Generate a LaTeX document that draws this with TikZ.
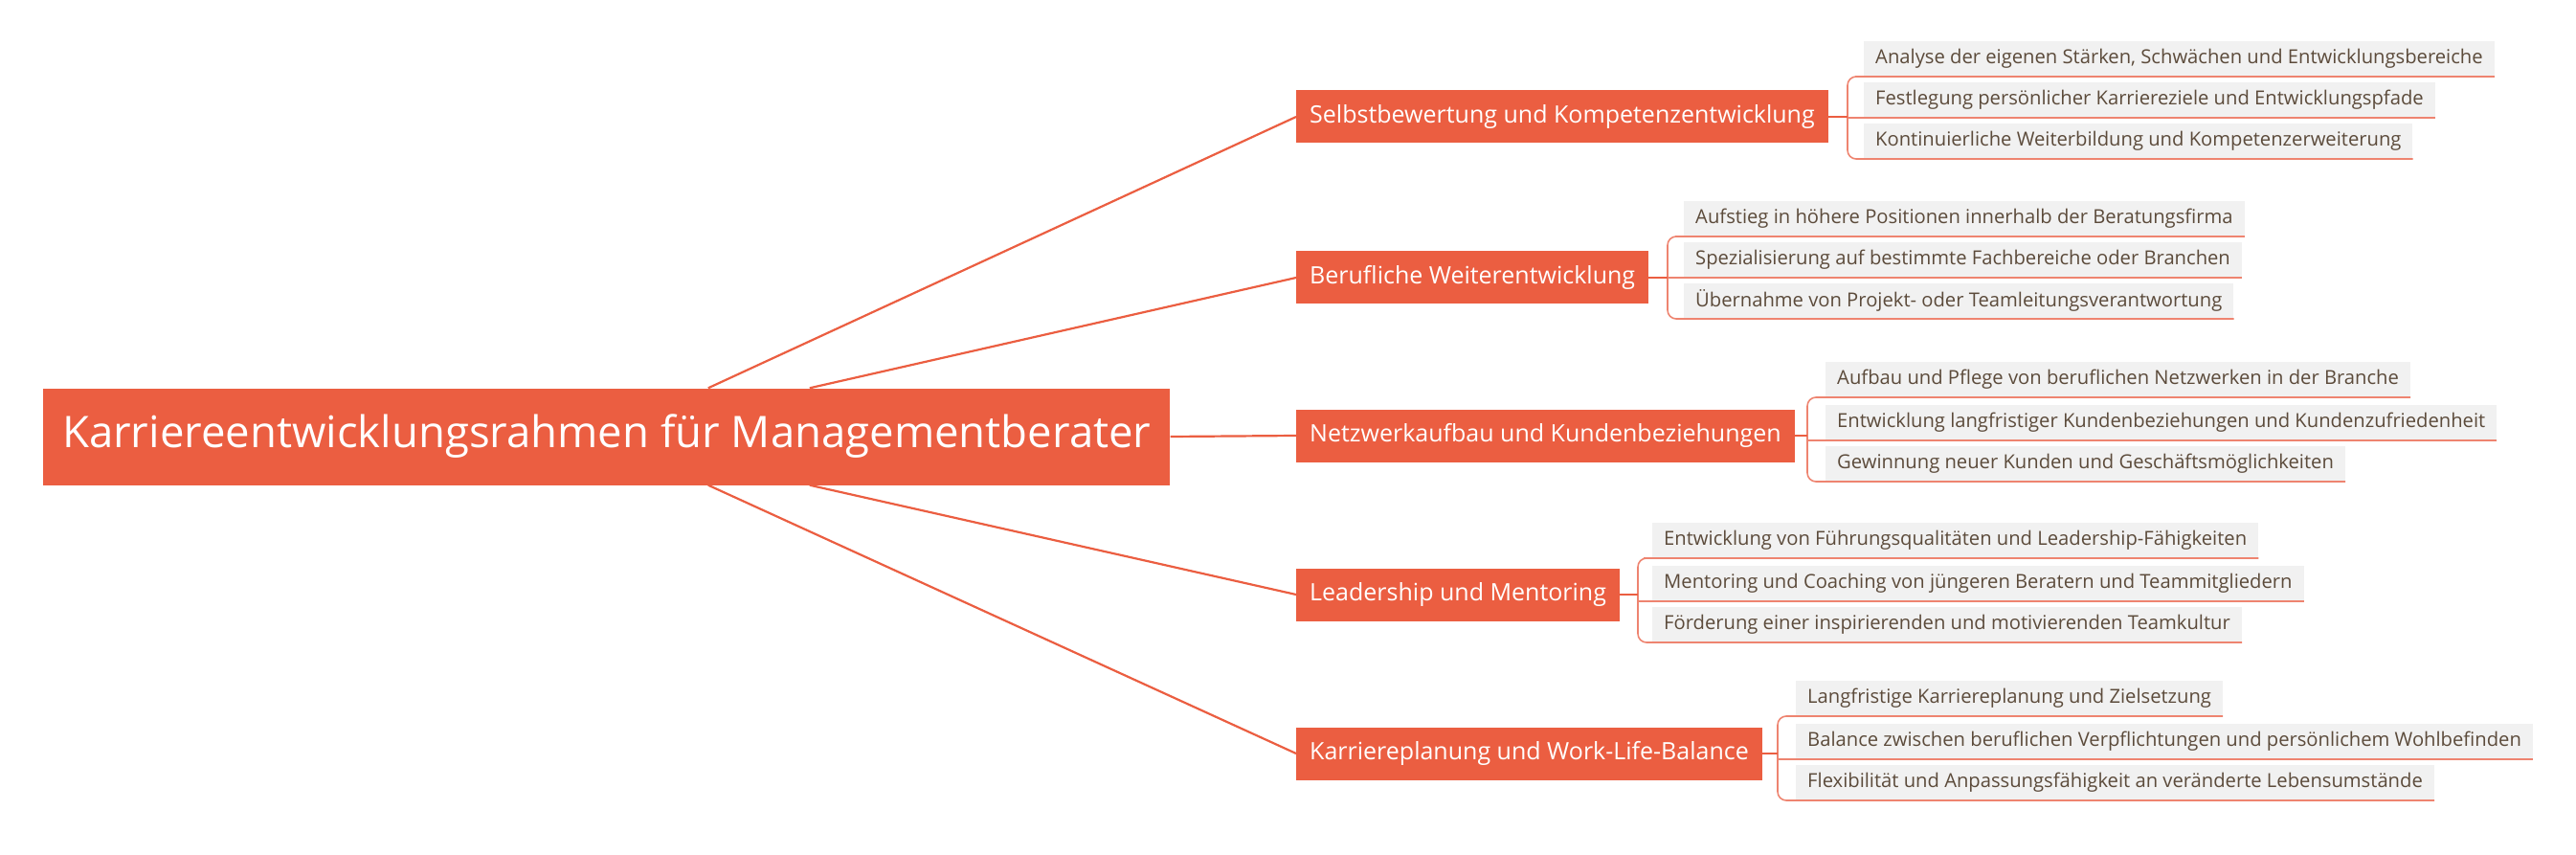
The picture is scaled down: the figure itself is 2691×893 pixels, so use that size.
\documentclass[tikz,border=0pt]{standalone}
\usetikzlibrary{calc}
\usepackage{fontspec}
\setmainfont{Open Sans}
\definecolor{brc}{HTML}{EB5E41}
\definecolor{lfill}{HTML}{F1F1F1}
\definecolor{ltext}{HTML}{5C4B3B}
\definecolor{uline}{HTML}{EE8470}
\begin{document}
\begin{tikzpicture}[x=1pt,y=-1pt,
  root/.style={fill=brc,text=white,inner xsep=20pt,minimum height=101pt,font=\fontsize{45.5}{54}\selectfont,anchor=west},
  br/.style={fill=brc,text=white,inner xsep=14pt,minimum height=55pt,font=\fontsize{25}{30}\selectfont,anchor=west},
  lf/.style={fill=lfill,text=ltext,inner xsep=12pt,minimum height=37pt,font=\fontsize{20.2}{24}\selectfont,anchor=south west},
  con/.style={draw=brc,line width=2.2pt},
  ul/.style={draw=uline,line width=1.6pt,rounded corners=9pt}]
\useasboundingbox (0,0) rectangle (2691,893);
\node[root] (root) at (45,456) {Karriereentwicklungsrahmen für Managementberater};
\node[br] (b1) at (1354,122) {Selbstbewertung und Kompetenzentwicklung};
\node[br] (b2) at (1354,290) {Berufliche Weiterentwicklung};
\node[br] (b3) at (1354,455) {Netzwerkaufbau und Kundenbeziehungen};
\node[br] (b4) at (1354,621) {Leadership und Mentoring};
\node[br] (b5) at (1354,787) {Karriereplanung und Work-Life-Balance};
\coordinate (r1) at ($(root.north west)!0.59!(root.north east)$);
\coordinate (r2) at ($(root.north west)!0.68!(root.north east)$);
\coordinate (r4) at ($(root.south west)!0.68!(root.south east)$);
\coordinate (r5) at ($(root.south west)!0.59!(root.south east)$);
\draw[con] (r1) -- (b1.west);
\draw[con] (r2) -- (b2.west);
\draw[con] (root.east) -- (b3.west);
\draw[con] (r4) -- (b4.west);
\draw[con] (r5) -- (b5.west);
% leaves
\node[lf] (l11) at (1947,80) {Analyse der eigenen Stärken, Schwächen und Entwicklungsbereiche};
\node[lf] (l12) at (1947,123) {Festlegung persönlicher Karriereziele und Entwicklungspfade};
\node[lf] (l13) at (1947,166) {Kontinuierliche Weiterbildung und Kompetenzerweiterung};
\node[lf] (l21) at (1759,247) {Aufstieg in höhere Positionen innerhalb der Beratungsfirma};
\node[lf] (l22) at (1759,290) {Spezialisierung auf bestimmte Fachbereiche oder Branchen};
\node[lf] (l23) at (1759,333) {Übernahme von Projekt- oder Teamleitungsverantwortung};
\node[lf] (l31) at (1907,415) {Aufbau und Pflege von beruflichen Netzwerken in der Branche};
\node[lf] (l32) at (1907,460) {Entwicklung langfristiger Kundenbeziehungen und Kundenzufriedenheit};
\node[lf] (l33) at (1907,503) {Gewinnung neuer Kunden und Geschäftsmöglichkeiten};
\node[lf] (l41) at (1726,583) {Entwicklung von Führungsqualitäten und Leadership-Fähigkeiten};
\node[lf] (l42) at (1726,628) {Mentoring und Coaching von jüngeren Beratern und Teammitgliedern};
\node[lf] (l43) at (1726,671) {Förderung einer inspirierenden und motivierenden Teamkultur};
\node[lf] (l51) at (1876,748) {Langfristige Karriereplanung und Zielsetzung};
\node[lf] (l52) at (1876,793) {Balance zwischen beruflichen Verpflichtungen und persönlichem Wohlbefinden};
\node[lf] (l53) at (1876,836) {Flexibilität und Anpassungsfähigkeit an veränderte Lebensumstände};
% brackets
\foreach \b/\g in {1/17,2/17,3/19,4/15,5/19}{
  \draw[ul] (l\b1.south east) -- (l\b1.south west) -- ++(-\g,0) |- (l\b3.south east);
  \draw[ul] (l\b2.south east) -- (l\b2.south west) -- ++(-\g,0);
  \draw[con] (b\b.east) -- ([xshift=-\g pt]l\b2.south west |- b\b.east);
}
\end{tikzpicture}
\end{document}
